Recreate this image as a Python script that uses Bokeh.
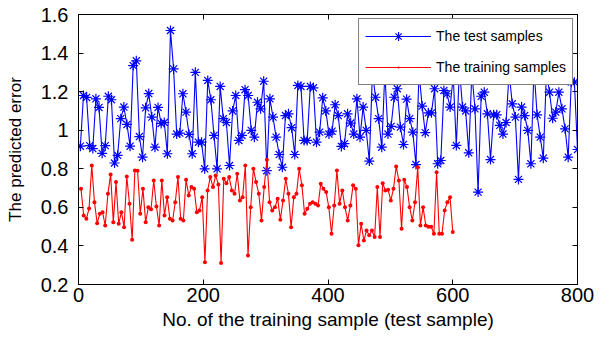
from bokeh.plotting import figure
from bokeh.models import Range1d, LinearAxis, FixedTicker, Legend
from bokeh.embed import file_html
from bokeh.resources import INLINE
import numpy as np

# ---- data ----
test_error = [
    0.917, 1.18, 1.17, 0.92, 0.905, 1.163, 1.118, 0.88, 0.92, 1.176, 1.158, 0.83, 0.87, 1.06,
    1.12, 1.03, 0.917, 1.335, 1.36, 0.967, 0.86, 1.116, 1.19, 1.068, 0.912, 1.118, 1.035, 1.04,
    0.878, 1.517, 1.318, 0.98, 0.985, 1.189, 1.094, 0.978, 0.878, 1.30, 0.938, 0.938, 0.80,
    1.258, 1.158, 0.973, 0.80, 1.227, 1.06, 1.04, 0.817, 1.10, 1.18, 0.947, 0.973, 1.21,
    1.18, 0.999, 0.964, 1.145, 1.111, 1.254, 0.79, 1.163, 1.068, 0.964, 0.874, 0.808, 1.076,
    1.085, 1.013, 0.874, 1.232, 1.227, 0.947, 0.947, 1.227, 1.22, 0.938, 0.99, 1.168, 1.10,
    0.98, 0.995, 1.132, 1.076, 0.916, 0.93, 1.085, 1.037, 0.98, 1.163, 0.964, 1.12, 0.999,
    0.84, 1.30, 1.171, 1.06, 0.912, 1.30, 0.98, 1.02, 1.171, 1.215, 1.016, 0.926, 1.161,
    1.06, 0.99, 0.822,
    1.30, 1.125, 0.987, 1.09, 1.09, 1.215, 0.826, 0.843, 1.206, 1.189, 1.12, 1.28, 0.921,
    1.32, 1.12, 1.10, 0.883, 1.30, 1.111, 0.679, 1.176, 1.197, 1.085, 0.848, 1.08, 1.08,
    1.025, 0.98, 1.04, 1.30, 1.137, 1.068, 0.745, 1.12, 1.076, 0.999, 0.826, 1.32, 1.08,
    0.964, 0.855, 1.30, 1.197, 1.062, 1.094, 1.197, 1.111, 1.007, 0.86, 1.25, 1.249, 0.90,
]
train_error = [
    0.696, 0.558, 0.541, 0.594, 0.817, 0.627, 0.518, 0.567, 0.575, 0.506, 0.671, 0.771, 0.523,
    0.731, 0.515, 0.575, 0.497, 0.76, 0.619, 0.432, 0.791, 0.79, 0.567, 0.696, 0.523, 0.60,
    0.59, 0.739, 0.605, 0.506, 0.739, 0.558, 0.653, 0.541, 0.532, 0.627, 0.757, 0.541, 0.532,
    0.743, 0.662, 0.705, 0.696, 0.575, 0.584, 0.653, 0.316, 0.688, 0.757, 0.705, 0.765, 0.719,
    0.311, 0.748, 0.725, 0.757,
    0.688, 0.671, 0.774, 0.636, 0.653, 0.817, 0.351, 0.60, 0.80, 0.731, 0.671, 0.532, 0.705,
    0.847, 0.627, 0.584, 0.60, 0.645, 0.536, 0.636, 0.748, 0.671, 0.497, 0.653, 0.671, 0.80,
    0.714, 0.567, 0.593, 0.619, 0.627, 0.619, 0.61, 0.722, 0.696, 0.679, 0.60, 0.463, 0.61,
    0.791, 0.619, 0.688, 0.60, 0.532, 0.61, 0.714, 0.696, 0.403, 0.515, 0.428, 0.48, 0.455,
    0.48, 0.446, 0.705, 0.446, 0.725, 0.688, 0.691, 0.636, 0.696, 0.812, 0.739, 0.489, 0.743,
    0.705, 0.60, 0.532,
    0.627, 0.808, 0.506, 0.60, 0.506, 0.50, 0.50, 0.463, 0.782, 0.463, 0.463, 0.584, 0.627,
    0.653, 0.472,
]
test_x = np.linspace(3, 800, len(test_error))
train_x = np.linspace(4, 600, len(train_error))

x_ticks = [0, 200, 400, 600, 800]
y_ticks = [0.2, 0.4, 0.6, 0.8, 1.0, 1.2, 1.4, 1.6]
y_tick_labels = {0.2: "0.2", 0.4: "0.4", 0.6: "0.6", 0.8: "0.8", 1.0: "1",
                 1.2: "1.2", 1.4: "1.4", 1.6: "1.6"}

FONT = "Liberation Sans"

p = figure(width=605, height=340, output_backend="svg", toolbar_location=None,
           x_range=Range1d(0, 800), y_range=Range1d(0.2, 1.6),
           min_border_left=78, min_border_right=28, min_border_top=14, min_border_bottom=56)
p.background_fill_color = "white"
p.border_fill_color = "white"
p.outline_line_color = "black"
p.outline_line_width = 1
p.xgrid.visible = False
p.ygrid.visible = False

r1 = p.line(test_x, test_error, line_color="#0000ff", line_width=1.1)
s1 = p.scatter(test_x, test_error, marker="asterisk", size=10, line_color="#0000ff", line_width=1.2)
r2 = p.line(train_x, train_error, line_color="#ff0000", line_width=1.1)
s2 = p.scatter(train_x, train_error, marker="dot", size=16, line_color="#ff0000",
               fill_color="#ff0000")

xa = p.xaxis[0]
ya = p.yaxis[0]
xa.ticker = FixedTicker(ticks=x_ticks)
ya.ticker = FixedTicker(ticks=y_ticks)
ya.major_label_overrides = y_tick_labels
for ax in (xa, ya):
    ax.major_tick_in = 5
    ax.major_tick_out = 0
    ax.minor_tick_line_color = None
    ax.axis_line_color = "black"
    ax.major_tick_line_color = "black"
    ax.major_label_text_font = FONT
    ax.major_label_text_font_size = "20px"
    ax.major_label_text_color = "black"
    ax.axis_label_text_font = FONT
    ax.axis_label_text_font_style = "normal"
    ax.axis_label_text_color = "black"
xa.axis_label = "No. of the training sample (test sample)"
xa.axis_label_text_font_size = "19px"
xa.major_label_standoff = 3
xa.axis_label_standoff = 4
ya.axis_label = "The predicted error"
ya.axis_label_text_font_size = "17px"
ya.major_label_standoff = 10
ya.axis_label_standoff = 13

top = LinearAxis(ticker=FixedTicker(ticks=x_ticks), major_tick_in=5, major_tick_out=0,
                 minor_tick_line_color=None, major_label_text_color=None,
                 major_label_standoff=0, axis_line_color="black")
right = LinearAxis(ticker=FixedTicker(ticks=y_ticks), major_tick_in=5, major_tick_out=0,
                   minor_tick_line_color=None, major_label_text_color=None,
                   major_label_standoff=0, axis_line_color="black")
p.add_layout(top, "above")
p.add_layout(right, "right")

legend = Legend(items=[("The test samples", [r1, s1]), ("The training samples", [r2, s2])],
                location="top_right", margin=4, padding=6, spacing=9,
                glyph_width=66, glyph_height=22, label_height=22, label_standoff=5,
                label_text_font=FONT, label_text_font_size="14px", label_text_color="black",
                border_line_color="black", border_line_width=1,
                background_fill_color="white", background_fill_alpha=1.0)
p.add_layout(legend, "center")

open("out.html", "w").write(file_html(p, INLINE))
